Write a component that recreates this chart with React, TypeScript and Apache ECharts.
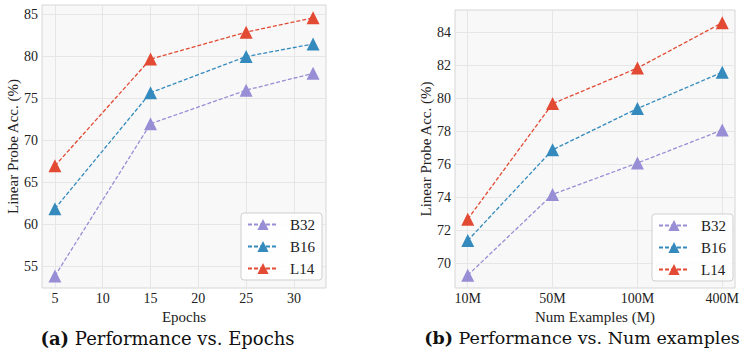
import React, { useEffect, useRef } from "react";
import * as echarts from "echarts";

const epochs = [5, 15, 25, 32];
const epochB32 = [53.9, 72, 76, 78];
const epochB16 = [61.9, 75.7, 80, 81.5];
const epochL14 = [67, 79.7, 82.9, 84.6];
const epochTicksX = [5, 10, 15, 20, 25, 30];
const epochTicksY = [55, 60, 65, 70, 75, 80, 85];

const numCats = ["10M", "50M", "100M", "400M"];
const numB32 = [69.3, 74.2, 76.1, 78.1];
const numB16 = [71.4, 76.9, 79.4, 81.6];
const numL14 = [72.7, 79.7, 81.85, 84.6];
const numTicksY = [70, 72, 74, 76, 78, 80, 82, 84];

const names = ["B32", "B16", "L14"];
const colors = ["#988ED5", "#348ABD", "#E24A33"];

const SERIF = "Liberation Serif";
const CAPFONT = "DejaVu Serif";

export default function App() {
  const ref = useRef<HTMLDivElement>(null);
  useEffect(() => {
    if (!ref.current) return;
    const chart = echarts.init(ref.current, null, { renderer: "svg" });

    const axisCommon = {
      axisLine: { show: false },
      axisTick: { show: false },
      splitLine: { show: true, lineStyle: { color: "#e6e6e6", width: 1 } },
      nameTextStyle: { fontFamily: SERIF, fontSize: 15, color: "#222" },
    };
    const labelCommon = { fontFamily: SERIF, fontSize: 14, color: "#222" };

    const mkSeries = (idx: number, axisIdx: number, xs: number[], ys: number[]) => ({
      type: "line",
      name: names[idx],
      xAxisIndex: axisIdx,
      yAxisIndex: axisIdx,
      data: xs.map((x, i) => [x, ys[i]]),
      symbol: "triangle",
      symbolSize: 13,
      itemStyle: { color: colors[idx] },
      lineStyle: { color: colors[idx], width: 1.3, type: [4, 2] },
      z: 3 + idx,
    });

    const legendCommon = {
      orient: "vertical",
      itemWidth: 30,
      itemHeight: 14,
      itemGap: 7,
      padding: [4, 7, 4, 6],
      borderColor: "#cfcfcf",
      borderWidth: 1,
      borderRadius: 3,
      backgroundColor: "rgba(255,255,255,0.85)",
      textStyle: { fontFamily: SERIF, fontSize: 15, color: "#222", padding: [0, 0, 0, 7] },
      data: names,
      selectedMode: false,
    };

    chart.setOption({
      animation: false,
      grid: [
        { left: 42, top: 5, width: 284, height: 283, show: true, backgroundColor: "#f8f8f8", borderColor: "#d6d6d6", borderWidth: 1 },
        { left: 455, top: 10, width: 282, height: 278, show: true, backgroundColor: "#f8f8f8", borderColor: "#d6d6d6", borderWidth: 1 },
      ],
      xAxis: [
        {
          ...axisCommon,
          type: "value",
          gridIndex: 0,
          min: 3.65,
          max: 33.35,
          name: "Epochs",
          nameLocation: "middle",
          nameGap: 16,
          axisTick: { show: false, customValues: epochTicksX },
          axisLabel: { ...labelCommon, margin: 3, customValues: epochTicksX },
        },
        {
          ...axisCommon,
          type: "value",
          gridIndex: 1,
          min: -0.15,
          max: 3.15,
          name: "Num Examples (M)",
          nameLocation: "middle",
          nameGap: 16,
          axisTick: { show: false, customValues: [0, 1, 2, 3] },
          axisLabel: {
            ...labelCommon,
            margin: 3,
            customValues: [0, 1, 2, 3],
            formatter: (v: number) => numCats[Math.round(v)] ?? "",
          },
        },
      ],
      yAxis: [
        {
          ...axisCommon,
          type: "value",
          gridIndex: 0,
          min: 52.47,
          max: 86.13,
          name: "Linear Probe Acc. (%)",
          nameLocation: "middle",
          nameGap: 17,
          axisTick: { show: false, customValues: epochTicksY },
          axisLabel: { ...labelCommon, margin: 4, customValues: epochTicksY },
        },
        {
          ...axisCommon,
          type: "value",
          gridIndex: 1,
          min: 68.53,
          max: 85.37,
          name: "Linear Probe Acc. (%)",
          nameLocation: "middle",
          nameGap: 19,
          axisTick: { show: false, customValues: numTicksY },
          axisLabel: { ...labelCommon, margin: 4, customValues: numTicksY },
        },
      ],
      legend: [
        { ...legendCommon, left: 241, top: 213 },
        { ...legendCommon, left: 652, top: 214 },
      ],
      series: [
        mkSeries(0, 0, epochs, epochB32),
        mkSeries(1, 0, epochs, epochB16),
        mkSeries(2, 0, epochs, epochL14),
        mkSeries(0, 1, [0, 1, 2, 3], numB32),
        mkSeries(1, 1, [0, 1, 2, 3], numB16),
        mkSeries(2, 1, [0, 1, 2, 3], numL14),
      ],
      graphic: [
        {
          type: "text",
          x: 167.5,
          y: 338,
          style: {
            text: "{b|(a)} Performance vs. Epochs",
            fontFamily: CAPFONT,
            fontSize: 18,
            fill: "#111",
            align: "center",
            verticalAlign: "middle",
            rich: { b: { fontFamily: CAPFONT, fontSize: 18, fontWeight: "bold", fill: "#111" } },
          },
        },
        {
          type: "text",
          x: 582,
          y: 338,
          style: {
            text: "{b|(b)} Performance vs. Num examples",
            fontFamily: CAPFONT,
            fontSize: 17.5,
            fill: "#111",
            align: "center",
            verticalAlign: "middle",
            rich: { b: { fontFamily: CAPFONT, fontSize: 17.5, fontWeight: "bold", fill: "#111" } },
          },
        },
      ],
    });
    return () => chart.dispose();
  }, []);
  return (
    <div
      ref={ref}
      style={{ position: "fixed", left: 0, top: 0, width: 742, height: 351, background: "#fff" }}
    />
  );
}
